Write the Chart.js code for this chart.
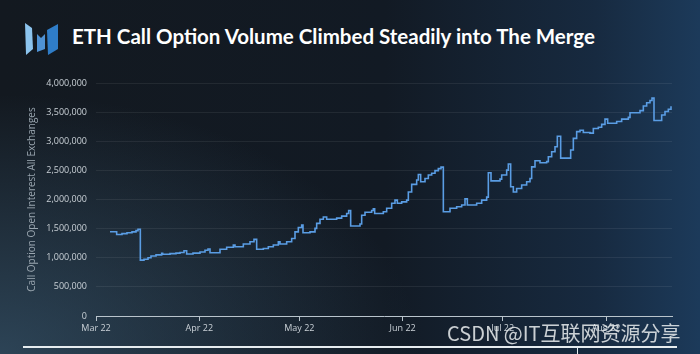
<!DOCTYPE html>
<html>
<head>
<meta charset="utf-8">
<script src="https://cdn.jsdelivr.net/npm/chart.js@4/dist/chart.umd.min.js"></script>
<style>
  html, body { margin: 0; padding: 0; }
  body {
    width: 700px; height: 354px; overflow: hidden; position: relative;
    background:
      radial-gradient(ellipse 420px 260px at 0px 354px, rgba(70,110,140,0.5), rgba(70,110,140,0) 100%),
      linear-gradient(90deg, #131920 0%, #121a24 55%, #172a40 85%, #1c3a5a 100%);
  }
  #logo { position: absolute; left: 22px; top: 20px; }
  #title {
    position: absolute; left: 72px; top: 24px; margin: 0;
    font: bold 20.5px Lato, "Open Sans", sans-serif; color: #fff; white-space: nowrap;
  }
  #wrap { position: absolute; left: 0; top: 0; width: 700px; height: 354px; }
  #rule { position: absolute; left: 23px; top: 346px; width: 654px; height: 2px; background: #e6ecef; }
  #cursor { position: absolute; left: 577px; top: 346px; width: 1px; height: 8px; background: #e6ecef; }
  #mark {
    position: absolute; left: 447px; top: 318px; white-space: nowrap;
    font: 20px "Noto Sans CJK SC", "Noto Sans", sans-serif; color: rgba(235,238,240,0.85);
  }
</style>
</head>
<body>
<svg id="logo" width="40" height="40" viewBox="22 20 40 40">
  <polygon points="25,23 32,28 33,49 26,55" fill="#8cc4ee"/>
  <polygon points="37,34 41,38 45,34 45,49 37,52" fill="#4f92d4"/>
  <polygon points="47,30 58,24 58,49 48,55" fill="#2f7dc8"/>
</svg>
<h1 id="title">ETH Call Option Volume Climbed Steadily into The Merge</h1>
<div id="wrap"><canvas id="chart" width="700" height="354"></canvas></div>
<div id="rule"></div>
<div id="cursor"></div>
<div id="mark">CSDN @IT互联网资源分享</div>
<script>
// days since 1 Mar 2022
const days = [
  4.2, 6.2, 7.8, 9.3, 10.8, 12.0, 12.6, 13.3, 14.4, 15.6, 16.5, 18.0, 19.7, 20.0,
  22.2, 24.0, 25.2, 26.4, 27.2, 29.1, 31.2, 32.7, 33.6, 34.2, 37.2, 39.2, 41.2, 41.7,
  44.2, 46.2, 47.4, 48.2, 50.2, 51.7, 53.2, 54.7, 55.2, 57.2, 58.7, 59.7, 60.7, 61.7,
  62.1, 64.2, 65.7, 66.2, 67.2, 68.2, 69.2, 72.2, 73.7, 75.2, 75.8, 76.4, 79.2, 79.7,
  80.7, 82.7, 83.2, 83.6, 86.2, 87.2, 88.7, 89.7, 90.4, 91.7, 93.2, 93.7, 94.7, 96.2,
  96.7, 97.4, 98.7, 99.7, 100.7, 101.7, 102.7, 103.5, 104.2, 106.2, 108.2, 109.7, 110.7,
  111.4, 114.2, 115.7, 117.2, 117.7, 118.5, 121.2, 121.7, 123.2, 123.7, 124.4, 125.2,
  126.2, 127.7, 129.2, 130.2, 130.7, 131.7, 133.2, 135.2, 135.7, 136.7, 137.7, 138.4,
  139.4, 142.4, 143.2, 144.2, 145.2, 146.2, 148.2, 149.2, 150.7, 151.7, 152.7, 153.5,
  156.2, 157.7, 159.7, 160.2, 163.2, 164.2, 165.2, 166.2, 166.8, 167.4, 169.7, 170.7,
  171.7, 172.5
];
const openInterest = [
  1447000, 1400000, 1415000, 1430000, 1445000, 1465000, 1490000, 960000, 975000, 1000000, 1030000, 1050000, 1075000, 1060000,
  1070000, 1080000, 1090000, 1120000, 1065000, 1080000, 1100000, 1130000, 1150000, 1087000, 1145000, 1180000, 1220000, 1190000,
  1235000, 1275000, 1315000, 1145000, 1160000, 1190000, 1220000, 1275000, 1235000, 1275000, 1330000, 1445000, 1520000, 1560000,
  1430000, 1445000, 1505000, 1590000, 1660000, 1700000, 1660000, 1680000, 1715000, 1760000, 1810000, 1545000, 1580000, 1730000,
  1780000, 1810000, 1840000, 1760000, 1790000, 1850000, 1935000, 1990000, 1935000, 1960000, 1990000, 2130000, 2260000, 2335000,
  2430000, 2305000, 2360000, 2420000, 2450000, 2495000, 2530000, 2555000, 1790000, 1850000, 1875000, 1905000, 2010000,
  1905000, 1935000, 1990000, 2040000, 2460000, 2320000, 2350000, 2420000, 2505000, 2610000, 2220000, 2130000,
  2190000, 2250000, 2305000, 2360000, 2560000, 2665000, 2630000, 2650000, 2735000, 2820000, 2905000, 3085000,
  2710000, 2850000, 3050000, 3165000, 3190000, 3150000, 3140000, 3220000, 3240000, 3290000, 3380000, 3310000,
  3340000, 3380000, 3410000, 3490000, 3525000, 3605000, 3660000, 3700000, 3740000, 3355000, 3450000, 3510000,
  3550000, 3600000
];
const monthTicks = [0, 31, 61, 92, 122, 153];
const monthLabels = ['Mar 22', 'Apr 22', 'May 22', 'Jun 22', 'Jul 22', 'Aug 22'];

const tickFont = { family: 'Open Sans', size: 9 };

new Chart(document.getElementById('chart'), {
  type: 'line',
  data: {
    datasets: [{
      label: 'Call Option Open Interest',
      data: days.map((d, i) => ({ x: d, y: openInterest[i] })),
      stepped: 'before',
      borderColor: '#5a9de4',
      borderWidth: 1.6,
      pointRadius: 0,
      fill: false
    }]
  },
  options: {
    responsive: false,
    animation: false,
    layout: { padding: { left: 24, right: 28, top: 83, bottom: 0 } },
    plugins: { legend: { display: false }, tooltip: { enabled: false } },
    scales: {
      x: {
        type: 'linear',
        min: 0,
        max: 172.8,
        afterBuildTicks: s => { s.ticks = monthTicks.map(v => ({ value: v })); },
        afterFit: s => { s.height = 38; },
        ticks: {
          color: '#c9d0d6',
          font: tickFont,
          padding: 2,
          maxRotation: 0,
          callback: v => monthLabels[monthTicks.indexOf(v)]
        },
        grid: { drawOnChartArea: false, drawTicks: true, tickLength: 5, color: '#b9c4cc' },
        border: { display: true, color: '#b9c4cc', width: 1 }
      },
      y: {
        min: 0,
        max: 4000000,
        afterFit: s => { s.width = 72; },
        ticks: {
          stepSize: 500000,
          color: '#c9d0d6',
          font: tickFont,
          padding: 9,
          callback: v => v.toLocaleString('en-US')
        },
        grid: { color: 'rgba(255,255,255,0.07)', drawTicks: false },
        border: { display: false },
        title: {
          display: true,
          text: 'Call Option Open Interest All Exchanges',
          color: '#9aa6b0',
          font: { family: 'Open Sans', size: 10 },
          padding: 2
        }
      }
    }
  }
});
</script>
</body>
</html>
